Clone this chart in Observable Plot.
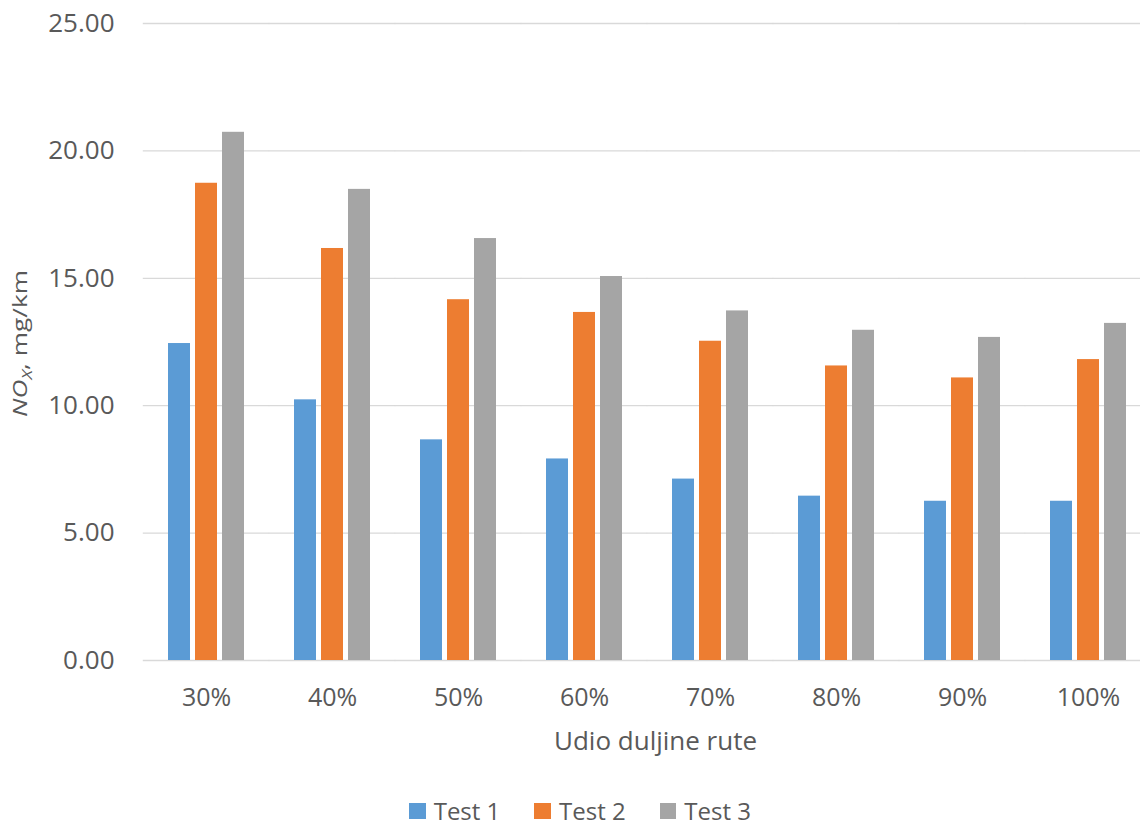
<!DOCTYPE html>
<html>
<head>
<meta charset="utf-8">
<script src="https://cdn.jsdelivr.net/npm/d3@7"></script>
<script src="https://cdn.jsdelivr.net/npm/@observablehq/plot@0.6"></script>
<style>
  body { margin: 0; background: #ffffff; font-family: 'Open Sans', sans-serif; overflow: hidden; }
  #chart { height: 790px; }
  #legend { display: flex; justify-content: center; align-items: center; margin-top: 9px; padding-left: 20px; height: 24px; line-height: 24px; color: #595959; font-size: 24px; }
  #legend .item { display: flex; align-items: center; margin: 0 17px; }
  #legend .sw { width: 16.7px; height: 16.7px; margin-right: 8px; display: inline-block; }
</style>
</head>
<body>
<div id="chart"></div>
<div id="legend"></div>
<script>
const categories = ["30%", "40%", "50%", "60%", "70%", "80%", "90%", "100%"];
const test1 = [12.44, 10.23, 8.66, 7.91, 7.12, 6.45, 6.25, 6.25];
const test2 = [18.73, 16.17, 14.16, 13.66, 12.53, 11.56, 11.09, 11.81];
const test3 = [20.73, 18.49, 16.56, 15.07, 13.72, 12.96, 12.68, 13.23];
const seriesNames = ["Test 1", "Test 2", "Test 3"];
const seriesColors = ["#5B9BD5", "#ED7D31", "#A5A5A5"];
const yTicks = [0, 5, 10, 15, 20, 25];
const xTitle = "Udio duljine rute";

const seriesValues = [test1, test2, test3];
const data = categories.flatMap((c, i) =>
  seriesValues.map((arr, j) => ({cat: c, s: seriesNames[j], v: arr[i]}))
);

const chart = Plot.plot({
  width: 1140,
  height: 790,
  marginLeft: 142,
  marginRight: 0,
  marginTop: 23,
  marginBottom: 130,
  style: {fontFamily: "'Open Sans', sans-serif", color: "#595959", background: "white", overflow: "visible"},
  fx: {domain: categories, range: [142, 1151], paddingInner: 0.381, paddingOuter: 0.19, label: null},
  x: {domain: seriesNames, paddingInner: 0.19, paddingOuter: 0, axis: null},
  y: {domain: [0, 25], axis: null},
  color: {domain: seriesNames, range: seriesColors},
  marks: [
    Plot.ruleY(yTicks, {stroke: "#D9D9D9", strokeWidth: 1.3, insetLeft: -24.2, insetRight: -24.2}),
    Plot.barY(data, {fx: "cat", x: "s", y: "v", fill: "s"}),
    Plot.axisY({ticks: yTicks, tickFormat: d => d.toFixed(2), tickSize: 0, tickPadding: 53, fontSize: 26, label: null}),
    Plot.axisFx({anchor: "bottom", tickSize: 0, tickPadding: 28, fontSize: 25, label: null}),
    Plot.text([xTitle], {facet: "super", frameAnchor: "bottom", lineAnchor: "top", dy: 71, dx: 8, fontSize: 26, fill: "#595959"})
  ]
});

document.getElementById("chart").appendChild(chart);

// Y axis title with italic NO and subscript X
const svg = d3.select(chart);
const yl = svg.append("text")
  .attr("transform", "translate(27,343.5) rotate(-90)")
  .attr("text-anchor", "middle")
  .attr("fill", "#595959")
  .attr("font-size", 20)
  .attr("font-family", "'Open Sans', sans-serif")
  .attr("textLength", 147)
  .attr("lengthAdjust", "spacingAndGlyphs");
yl.append("tspan").attr("font-style", "italic").text("NO");
yl.append("tspan").attr("font-style", "italic").attr("font-size", 14).attr("dy", 5).text("X");
yl.append("tspan").attr("dy", -5).text(", mg/km");

// Legend
const legend = d3.select("#legend");
seriesNames.forEach((name, i) => {
  const item = legend.append("div").attr("class", "item");
  item.append("span").attr("class", "sw").style("background", seriesColors[i]);
  item.append("span").text(name);
});
</script>
</body>
</html>
